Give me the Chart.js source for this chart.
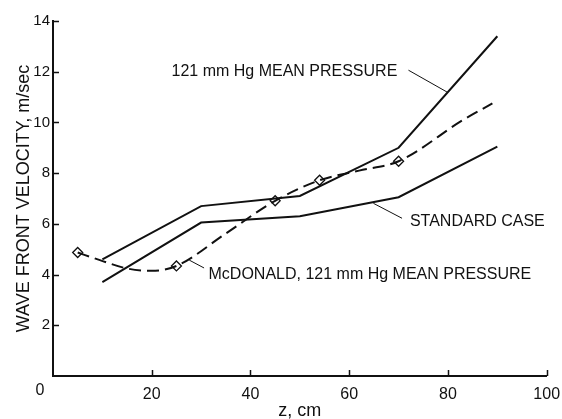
<!DOCTYPE html>
<html>
<head>
<meta charset="utf-8">
<script src="https://cdn.jsdelivr.net/npm/chart.js@4.4.1/dist/chart.umd.min.js"></script>
<style>
  html, body { margin: 0; padding: 0; background: #fff; }
  #wrap { width: 562px; height: 419px; }
</style>
</head>
<body>
<div id="wrap"><canvas id="velocityChart" width="562" height="419"></canvas></div>
<script>
// distance along tube (cm) and wave front velocity (m/sec)
const zLines = [10, 30, 50, 70, 90];
const pressure121 = [4.6, 6.7, 7.1, 9.0, 13.4];
const standardCase = [3.7, 6.05, 6.3, 7.05, 9.05];

// McDonald measured curve (dashed) and its marked points
const mcCurveZ = [5, 9.5, 15, 20, 25, 35, 45, 54, 62, 70, 83, 89];
const mcCurveV = [4.87, 4.57, 4.24, 4.15, 4.34, 5.62, 6.91, 7.72, 8.1, 8.47, 10.09, 10.75];
const mcPointZ = [5, 25, 45, 54, 70];
const mcPointV = [4.87, 4.34, 6.91, 7.72, 8.47];

const xTicks = [0, 20, 40, 60, 80, 100];
const yTicks = [0, 2, 4, 6, 8, 10, 12, 14];

// label text, anchor and leader line, in data units
const labels = [
    { text: '121 mm Hg MEAN PRESSURE', at: [24, 12.02], leader: [[72.0, 12.06], [79.8, 11.2]] },
    { text: 'STANDARD CASE', at: [72.3, 6.08], leader: [[64.9, 6.81], [70.7, 6.22]] },
    { text: 'McDONALD, 121 mm Hg MEAN PRESSURE', at: [31.5, 4.0], leader: [[27.6, 4.57], [30.6, 4.26]] }
];

const ink = '#111';
const fontFamily = "'Liberation Sans', Arial, Helvetica, sans-serif";

function pts(xs, ys) {
    return xs.map((x, i) => ({ x: x, y: ys[i] }));
}

const figureExtras = {
    id: 'figureExtras',
    afterDraw(chart) {
        const ctx = chart.ctx;
        const xs = chart.scales.x;
        const ys = chart.scales.y;
        const area = chart.chartArea;
        ctx.save();
        ctx.strokeStyle = ink;
        ctx.fillStyle = ink;

        // inward tick marks
        ctx.lineWidth = 1.5;
        ctx.beginPath();
        xTicks.slice(1).forEach(v => {
            const px = Math.round(xs.getPixelForValue(v)) + 0.5;
            ctx.moveTo(px, area.bottom);
            ctx.lineTo(px, area.bottom - 6);
        });
        yTicks.slice(1).forEach(v => {
            const py = Math.round(ys.getPixelForValue(v)) + 0.5;
            ctx.moveTo(area.left, py);
            ctx.lineTo(area.left + 6, py);
        });
        ctx.stroke();

        // shared origin label
        ctx.font = '16px ' + fontFamily;
        ctx.textAlign = 'center';
        ctx.textBaseline = 'middle';
        ctx.fillText('0', 40, 391);

        // curve labels with leader lines
        ctx.lineWidth = 1;
        ctx.textAlign = 'left';
        labels.forEach(l => {
            ctx.beginPath();
            ctx.moveTo(xs.getPixelForValue(l.leader[0][0]), ys.getPixelForValue(l.leader[0][1]));
            ctx.lineTo(xs.getPixelForValue(l.leader[1][0]), ys.getPixelForValue(l.leader[1][1]));
            ctx.stroke();
            ctx.fillText(l.text, xs.getPixelForValue(l.at[0]), ys.getPixelForValue(l.at[1]));
        });
        ctx.restore();
    }
};

const ctx = document.getElementById('velocityChart').getContext('2d');
new Chart(ctx, {
    type: 'scatter',
    data: {
        datasets: [
            {
                label: '121 mm Hg mean pressure',
                data: pts(zLines, pressure121),
                showLine: true,
                borderColor: ink,
                borderWidth: 2,
                pointRadius: 0
            },
            {
                label: 'Standard case',
                data: pts(zLines, standardCase),
                showLine: true,
                borderColor: ink,
                borderWidth: 2,
                pointRadius: 0
            },
            {
                label: 'McDonald curve',
                data: pts(mcCurveZ, mcCurveV),
                showLine: true,
                borderColor: ink,
                borderWidth: 2,
                borderDash: [12, 6],
                cubicInterpolationMode: 'monotone',
                pointRadius: 0
            },
            {
                label: 'McDonald points',
                data: pts(mcPointZ, mcPointV),
                pointStyle: 'rectRot',
                pointRadius: 5,
                pointBackgroundColor: '#fff',
                pointBorderColor: ink,
                pointBorderWidth: 1.3
            },
            {
                label: 'McDonald point centres',
                data: pts(mcPointZ, mcPointV),
                pointStyle: 'circle',
                pointRadius: 0.8,
                pointBackgroundColor: ink,
                pointBorderWidth: 0
            }
        ]
    },
    options: {
        responsive: false,
        animation: false,
        layout: { padding: { top: 21, right: 15.3, bottom: 0, left: 0 } },
        plugins: {
            legend: { display: false },
            tooltip: { enabled: false }
        },
        scales: {
            x: {
                type: 'linear',
                min: 0,
                max: 100,
                afterFit: s => { s.height = 43; s.paddingRight = 0; s.paddingLeft = 0; },
                grid: { display: false, drawTicks: false },
                border: { display: true, color: ink, width: 2 },
                ticks: {
                    stepSize: 20,
                    padding: 9,
                    color: ink,
                    font: { family: fontFamily, size: 16 },
                    maxRotation: 0,
                    callback: v => (v === 0 ? '' : v)
                },
                title: {
                    display: true,
                    text: 'z, cm',
                    color: ink,
                    font: { family: fontFamily, size: 18, lineHeight: 0.85 },
                    padding: { top: 0, bottom: 0 }
                }
            },
            y: {
                type: 'linear',
                min: 0,
                max: 14,
                afterFit: s => { s.width = 53; s.paddingTop = 0; s.paddingBottom = 0; },
                grid: { display: false, drawTicks: false },
                border: { display: true, color: ink, width: 2 },
                ticks: {
                    stepSize: 2,
                    padding: 3,
                    color: ink,
                    font: { family: fontFamily, size: 15 },
                    callback: v => (v === 0 ? '' : v)
                },
                title: {
                    display: true,
                    text: 'WAVE FRONT VELOCITY, m/sec',
                    color: ink,
                    font: { family: fontFamily, size: 18, lineHeight: 1 },
                    padding: { top: 15, bottom: 0 }
                }
            }
        }
    },
    plugins: [figureExtras]
});
</script>
</body>
</html>
